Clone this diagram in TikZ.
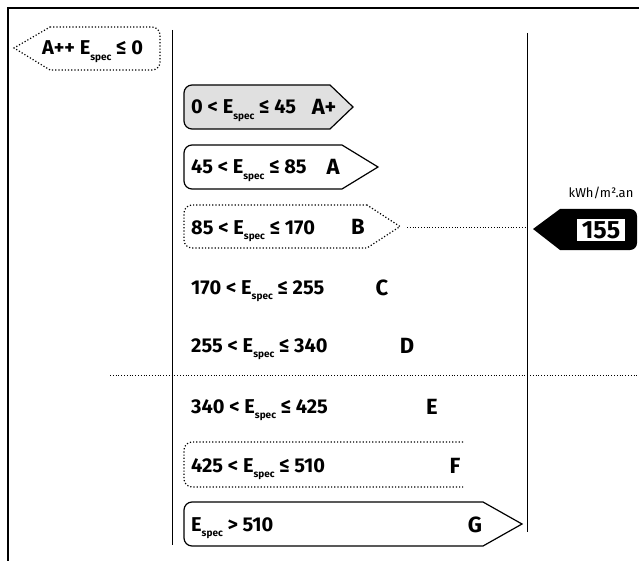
\documentclass[tikz,border=0pt]{standalone}
\usepackage{fontspec}
\setmainfont{Fira Sans}
\newcommand{\Espec}{E\raisebox{-0.5ex}{\fontsize{10}{10}\selectfont spec}}
\tikzset{
	rangetext/.style={font=\fontsize{20}{20}\selectfont\bfseries, anchor=base west, inner sep=0pt},
	classtext/.style={font=\fontsize{22}{22}\selectfont\bfseries, anchor=base, inner sep=0pt},
	bandline/.style={line width=1.2pt},
	shadedband/.style={fill=black!12}
}
\begin{document}
\begin{tikzpicture}[x=1pt, y=-1pt]
\useasboundingbox (0,0) rectangle (639,561);
% frame and axes
\draw[line width=1.5pt] (8,561) -- (8,8) -- (639,8);
\draw[line width=0.9pt] (172,30) -- (172,545);
\draw[line width=0.9pt] (527,33) -- (527,532);
\draw[dotted, line width=0.8pt] (110,375) -- (639,375);
% class bands
\foreach \top/\bot/\slant/\tip/\sty in {85/129/330/353/shadedband, 145/189/342/378/solid, 205/248/367/400/dotted, 502/546/483/522/solid}
{
	\draw[bandline, \sty] (\slant,\top) [rounded corners=8pt] -- (184,\top) -- (184,\bot) [sharp corners] -- (\slant,\bot) -- (\tip,{(\top+\bot)/2}) -- cycle;
}
\draw[bandline, dotted] (463,442) [rounded corners=8pt] -- (184,442) -- (184,487) [sharp corners] -- (463,487);
\draw[bandline, dotted] (50,27) [rounded corners=8pt] -- (160,27) -- (160,70) [sharp corners] -- (50,70) -- (14,48) -- cycle;
% labels
\node[rangetext] (rangeApp) at (42,55) {A++ \Espec{} ≤ 0};
\foreach \id/\y/\range/\cls/\cx in {Ap/107/{0 < \Espec{} ≤ 45}/A+/324, A/167/{45 < \Espec{} ≤ 85}/A/333, B/227/{85 < \Espec{} ≤ 170}/B/358, C/287/{170 < \Espec{} ≤ 255}/C/382, D/345/{255 < \Espec{} ≤ 340}/D/407, E/406/{340 < \Espec{} ≤ 425}/E/432, F/465/{425 < \Espec{} ≤ 510}/F/455, G/524/{\Espec{} > 510}/G/475}
{
	\node[rangetext] (range\id) at (191,\y+7) {\range};
	\node[classtext] (class\id) at (\cx,\y+8) {\cls};
}
% indicator
\fill (560,209) [rounded corners=7pt] -- (637,209) -- (637,250) [sharp corners] -- (560,250) -- (533,229) -- cycle;
\node[fill=white, minimum width=48pt, minimum height=22pt, inner sep=0pt, font=\fontsize{25}{25}\selectfont\bfseries] (value) at (601,230) {155};
\node[font=\fontsize{13}{13}\selectfont] (unit) at (601,193) {kWh/m².an};
\coordinate (tipB) at (407,227);
\coordinate (axisB) at (527,227);
\draw[dotted, line width=0.8pt] (tipB) -- (axisB);
\end{tikzpicture}
\end{document}
